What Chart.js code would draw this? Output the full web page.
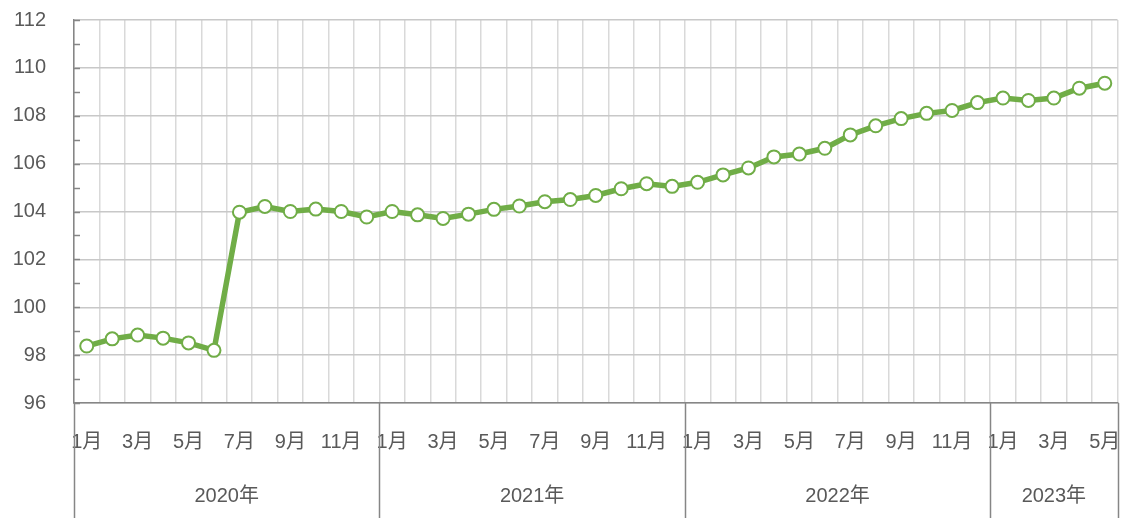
<!DOCTYPE html>
<html>
<head>
<meta charset="utf-8">
<script src="https://cdn.jsdelivr.net/npm/chart.js@4"></script>
<style>
  html, body { margin: 0; padding: 0; background: #fff; }
  #wrap { width: 1126px; height: 518px; }
</style>
</head>
<body>
<div id="wrap"><canvas id="c" width="1126" height="518"></canvas></div>
<script>
// Indice mensual 2020-01 .. 2023-05
const years = ['2020年', '2021年', '2022年', '2023年'];
const monthsPerYear = [12, 12, 12, 5];
const monthNames = ['1月','2月','3月','4月','5月','6月','7月','8月','9月','10月','11月','12月'];
const values = [
  98.38, 98.68, 98.84, 98.71, 98.51, 98.2, 103.97, 104.21, 104.0, 104.1, 104.0, 103.77,
  104.0, 103.86, 103.71, 103.89, 104.09, 104.23, 104.41, 104.5, 104.67, 104.95, 105.16, 105.05,
  105.22, 105.53, 105.82, 106.28, 106.4, 106.64, 107.2, 107.58, 107.88, 108.1, 108.22, 108.55,
  108.74, 108.64, 108.74, 109.15, 109.36,
];
const yTicks = { min: 96, max: 112, step: 2 };

const labels = [];
monthsPerYear.forEach(n => { for (let m = 0; m < n; m++) labels.push(monthNames[m]); });

const FONT = '"Liberation Sans", "Noto Sans CJK SC", sans-serif';
const TEXT = '#595959';
const AXIS = '#868686';

// marcas del eje Y (dentro del area) + separadores y etiquetas de año
const extras = {
  id: 'extras',
  afterDraw(chart) {
    const { ctx, chartArea: a, scales: { x, y } } = chart;
    ctx.save();
    ctx.strokeStyle = AXIS;
    ctx.lineWidth = 1.5;
    for (let v = yTicks.min; v <= yTicks.max; v++) {
      const py = Math.round(y.getPixelForValue(v)) + 0.5;
      ctx.beginPath(); ctx.moveTo(a.left, py); ctx.lineTo(a.left + 6, py); ctx.stroke();
    }
    const half = (x.getPixelForValue(1) - x.getPixelForValue(0)) / 2;
    let idx = 0;
    const bounds = [];
    monthsPerYear.forEach((n, i) => {
      const x0 = x.getPixelForValue(idx) - half;
      const x1 = x.getPixelForValue(idx + n - 1) + half;
      bounds.push(x0);
      if (i === monthsPerYear.length - 1) bounds.push(x1);
      ctx.fillStyle = TEXT;
      ctx.font = '20px ' + FONT;
      ctx.textAlign = 'center';
      ctx.textBaseline = 'middle';
      ctx.fillText(years[i], (x0 + x1) / 2, 496);
      idx += n;
    });
    bounds.forEach(bx => {
      const px = Math.round(bx) + 0.5;
      ctx.beginPath(); ctx.moveTo(px, a.bottom); ctx.lineTo(px, chart.height); ctx.stroke();
    });
    ctx.restore();
  }
};

new Chart(document.getElementById('c'), {
  type: 'line',
  data: {
    labels,
    datasets: [{
      data: values,
      borderColor: '#70AD47',
      borderWidth: 5.5,
      pointRadius: 6.5,
      pointBorderWidth: 2,
      pointBackgroundColor: '#fff',
      pointBorderColor: '#70AD47',
      tension: 0,
    }],
  },
  options: {
    responsive: false,
    animation: false,
    layout: { padding: { top: 20, right: 7, left: 0, bottom: 0 } },
    plugins: { legend: { display: false }, tooltip: { enabled: false } },
    scales: {
      x: {
        offset: true,
        grid: { offset: true, color: '#d9d9d9', lineWidth: 1.5, drawTicks: false },
        border: { color: AXIS, width: 1.5 },
        afterFit(s) { s.height = 115; s.paddingLeft = 0; s.paddingRight = 0; },
        ticks: {
          autoSkip: false,
          maxRotation: 0,
          padding: 27,
          color: TEXT,
          font: { size: 20, family: FONT },
          callback(v, i) { return (i % 12) % 2 === 0 ? this.getLabelForValue(v) : ''; },
        },
      },
      y: {
        min: yTicks.min,
        max: yTicks.max,
        grid: { color: '#c8c8c8', lineWidth: 1.5, drawTicks: false },
        border: { color: AXIS, width: 1.5 },
        afterFit(s) { s.width = 74; s.paddingTop = 0; s.paddingBottom = 0; },
        ticks: {
          stepSize: yTicks.step,
          padding: 28,
          color: TEXT,
          font: { size: 20, family: FONT },
        },
      },
    },
  },
  plugins: [extras],
});
</script>
</body>
</html>
